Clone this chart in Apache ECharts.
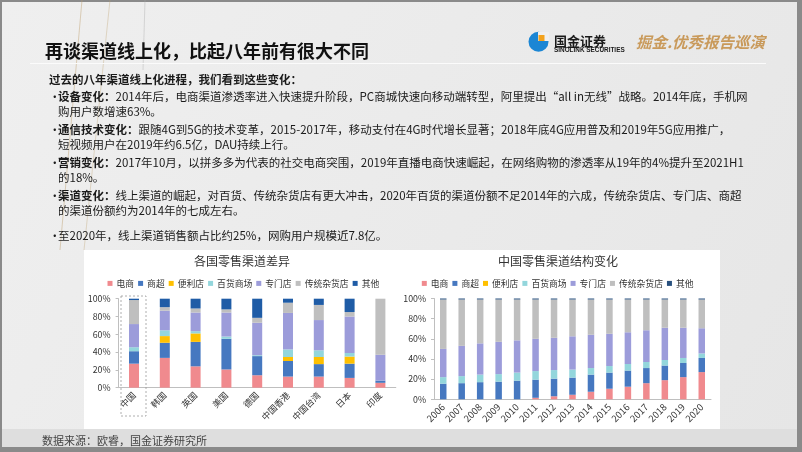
<!DOCTYPE html>
<html><head><meta charset="utf-8">
<script src="https://cdn.jsdelivr.net/npm/echarts@6/dist/echarts.min.js"></script>
<style>html,body{margin:0;padding:0;background:#ececec;}#c{width:802px;height:452px;}</style>
</head><body><div id="c"></div>
<script>
const seriesNames = ['电商','商超','便利店','百货商场','专门店','传统杂货店','其他'];
const countries = ['中国','韩国','英国','美国','德国','中国香港','中国台湾','日本','印度'];
const years = ['2006','2007','2008','2009','2010','2011','2012','2013','2014','2015','2016','2017','2018','2019','2020'];
const yTicks = [0,20,40,60,80,100];

// 各国零售渠道差异 (%)
const cEcom   = [27, 33.5, 24, 20.5, 14, 12.5, 12.5, 11, 5.5];
const cSuper  = [14, 17, 27.5, 34.5, 21.5, 17.5, 14, 16, 2.5];
const cConv   = [0, 7.5, 9.5, 0, 0, 4.5, 8, 8, 0];
const cDept   = [4.5, 6.5, 2.5, 2.5, 1, 8.5, 7.5, 4, 0];
const cSpec   = [26, 22, 21, 27, 36.5, 41, 34, 41, 29];
const cTrad   = [27, 4, 4.5, 3.5, 5.5, 11.5, 17, 5, 63];
const cOther  = [1.5, 9.5, 11, 12, 21.5, 4.5, 7, 15, 0];

// 中国零售渠道结构变化 (%)
const yEcom  = [0, 0, 0, 0, 0, 1.5, 3, 4.5, 7.5, 10.5, 12.5, 16, 19, 22, 27];
const ySuper = [15.5, 16, 17, 17.5, 18.5, 18, 17.5, 17, 17, 16, 16, 15, 14.5, 14, 14];
const yConv  = [0, 0, 0, 0, 0, 0, 0, 0, 0, 0, 0, 0, 0, 0, 0];
const yDept  = [6.5, 7, 7.5, 7.5, 8, 8.5, 8.5, 8, 6.5, 6.5, 6.5, 6, 5.5, 5, 4.5];
const ySpec  = [28, 30, 31, 32, 32, 32, 32, 33, 33, 32, 31.5, 31.5, 32, 30, 25];
const yTrad  = [49, 46, 43.5, 42, 40.5, 39, 38, 36.5, 35, 34, 32.5, 30.5, 28, 28, 28.5];
const yOther = [1, 1, 1, 1, 1, 1, 1, 1, 1, 1, 1, 1, 1, 1, 1];

const leftData = [cEcom, cSuper, cConv, cDept, cSpec, cTrad, cOther];
const rightData = [yEcom, ySuper, yConv, yDept, ySpec, yTrad, yOther];
const colorsL = ['#F08A8E','#4678C0','#FFC000','#93D6DC','#9C9CDA','#BFBFBF','#1F5CA6'];
const colorsR = ['#F08A8E','#4678C0','#FFC000','#93D6DC','#9C9CDA','#BFBFBF','#28507E'];

const FF = '"Noto Sans CJK SC","Noto Sans",sans-serif';
const chart = echarts.init(document.getElementById('c'));

const series = [];
seriesNames.forEach((n,i)=>{
  series.push({name:n,type:'bar',stack:'L',xAxisIndex:0,yAxisIndex:0,barWidth:10,data:leftData[i],itemStyle:{color:colorsL[i]}});
});
seriesNames.forEach((n,i)=>{
  series.push({name:n,type:'bar',stack:'R',xAxisIndex:1,yAxisIndex:1,barWidth:6.5,data:rightData[i],itemStyle:{color:colorsR[i]}});
});

const bodyFont = 11.5;
const rich = {b:{fontWeight:'bold',fontSize:bodyFont,fontFamily:FF,fill:'#1a1a1a'}};
const bodyLines = [
  {x:49, y:80, t:'{b|过去的八年渠道线上化进程，我们看到这些变化：}', bullet:false},
  {x:58, y:97, t:'{b|设备变化：}2014年后，电商渠道渗透率进入快速提升阶段，PC商城快速向移动端转型，阿里提出“all in无线”战略。2014年底，手机网', bullet:true},
  {x:58, y:112, t:'购用户数增速63%。', bullet:false},
  {x:58, y:130, t:'{b|通信技术变化：}跟随4G到5G的技术变革，2015-2017年，移动支付在4G时代增长显著；2018年底4G应用普及和2019年5G应用推广，', bullet:true},
  {x:58, y:145, t:'短视频用户在2019年约6.5亿，DAU持续上行。', bullet:false},
  {x:58, y:163, t:'{b|营销变化：}2017年10月，以拼多多为代表的社交电商突围，2019年直播电商快速崛起，在网络购物的渗透率从19年的4%提升至2021H1', bullet:true},
  {x:58, y:178, t:'的18%。', bullet:false},
  {x:58, y:196, t:'{b|渠道变化：}线上渠道的崛起，对百货、传统杂货店有更大冲击，2020年百货的渠道份额不足2014年的六成，传统杂货店、专门店、商超', bullet:true},
  {x:58, y:211, t:'的渠道份额约为2014年的七成左右。', bullet:false},
  {x:58, y:236, t:'至2020年，线上渠道销售额占比约25%，网购用户规模近7.8亿。', bullet:true}
];

const graphics = [
  {type:'rect', z:-20, shape:{x:0,y:0,width:802,height:452}, style:{fill:'#8a8a8a'}},
  {type:'rect', z:-19, shape:{x:2,y:2,width:795,height:445}, style:{fill:{type:'linear',x:0,y:0,x2:1,y2:1,colorStops:[{offset:0,color:'#efefef'},{offset:1,color:'#e6e6e6'}]}}},
  {type:'line', z:-18, shape:{x1:82,y1:0,x2:60,y2:250}, style:{stroke:'rgba(190,160,110,0.45)',lineWidth:1}},
  {type:'line', z:-18, shape:{x1:110,y1:0,x2:84,y2:250}, style:{stroke:'rgba(190,160,110,0.35)',lineWidth:1}},
  {type:'line', z:-18, shape:{x1:145,y1:0,x2:143,y2:70}, style:{stroke:'rgba(170,170,170,0.4)',lineWidth:1}},
  {type:'line', z:-18, shape:{x1:30,y1:63.5,x2:766,y2:63.5}, style:{stroke:'#fbfbfb',lineWidth:1.2}},
  {type:'rect', z:-17, shape:{x:2,y:429,width:795,height:18}, style:{fill:'#dedede'}},
  {type:'rect', z:-16, shape:{x:84,y:250,width:636,height:179}, style:{fill:'#ffffff'}},
  {type:'text', z:50, x:45, y:51, style:{text:'再谈渠道线上化，比起八年前有很大不同', font:'bold 18px '+FF, fill:'#111', verticalAlign:'middle'}},
  // logo
  {type:'circle', z:50, shape:{cx:538.5,cy:41.7,r:10}, style:{fill:'#1B86D4'}},
  {type:'rect', z:51, shape:{x:538,y:32,width:11,height:9}, style:{fill:'#efefef'}},
  {type:'rect', z:52, shape:{x:538.5,y:35,width:6,height:6}, style:{fill:'#F3A21C'}},
  {type:'text', z:50, x:554, y:41.5, style:{text:'国金证券', font:'bold 13px '+FF, fill:'#1a1a1a', verticalAlign:'middle'}},
  {type:'text', z:50, x:554, y:50.5, style:{text:'SINOLINK SECURITIES', font:'bold 6.4px "Liberation Sans",sans-serif', fill:'#1a1a1a', verticalAlign:'middle'}},
  {type:'text', z:50, x:636, y:42, style:{text:'掘金.优秀报告巡演', font:'italic bold 15.5px '+FF, fill:'#C99A5B', verticalAlign:'middle'}},
  // dashed box around 中国
  {type:'rect', z:60, shape:{x:121,y:296,width:25,height:120}, style:{fill:null, stroke:'#9a9a9a', lineWidth:0.8, lineDash:[2,2]}},
  {type:'text', z:50, x:42, y:441, style:{text:'数据来源：欧睿，国金证券研究所', font:'11px '+FF, fill:'#444', verticalAlign:'middle'}}
];
bodyLines.forEach(l=>{
  if(l.bullet) graphics.push({type:'text', z:50, x:49, y:l.y, style:{text:'•', font:bodyFont+'px '+FF, fill:'#1a1a1a', verticalAlign:'middle'}});
  graphics.push({type:'text', z:50, x:l.x, y:l.y, style:{text:l.t, rich:rich, fontSize:bodyFont, fontFamily:FF, fill:'#1a1a1a', verticalAlign:'middle'}});
});

function legendItems(cols){ return seriesNames.map((n,i)=>({name:n, itemStyle:{color:cols[i]}})); }
const legendCommon = {top:279, itemWidth:5, itemHeight:5, itemGap:4, padding:0, icon:'rect', selectedMode:false,
  textStyle:{fontSize:8.8, fontFamily:FF, color:'#333', padding:[0,0,0,-1]}};
const yCommon = {type:'value', min:0, max:100, interval:20,
  axisLabel:{formatter:'{value}%', fontSize:8.8, fontFamily:FF, color:'#333', margin:8},
  axisLine:{show:true, lineStyle:{color:'#bfbfbf'}}, axisTick:{show:true, length:3, lineStyle:{color:'#bfbfbf'}},
  splitLine:{show:false}};

chart.setOption({
  animation:false,
  backgroundColor:'transparent',
  graphic:{elements:graphics},
  title:[
    {text:'各国零售渠道差异', left:242, top:255, textAlign:'center', padding:0, textStyle:{fontSize:12, fontWeight:'normal', fontFamily:FF, color:'#333'}},
    {text:'中国零售渠道结构变化', left:558, top:255, textAlign:'center', padding:0, textStyle:{fontSize:12, fontWeight:'normal', fontFamily:FF, color:'#333'}}
  ],
  legend:[
    Object.assign({left:107.5, data:legendItems(colorsL)}, legendCommon),
    Object.assign({left:421.8, data:legendItems(colorsR)}, legendCommon)
  ],
  grid:[
    {left:118.6, top:298.7, width:277.2, height:89},
    {left:434, top:298.5, width:277, height:100.8}
  ],
  xAxis:[
    {type:'category', gridIndex:0, data:countries,
      axisLabel:{rotate:45, fontSize:8.8, fontFamily:FF, color:'#333', margin:6, interval:0},
      axisLine:{lineStyle:{color:'#bfbfbf'}}, axisTick:{length:3, lineStyle:{color:'#bfbfbf'}}},
    {type:'category', gridIndex:1, data:years,
      axisLabel:{rotate:45, fontSize:9.5, fontFamily:FF, color:'#333', margin:6, interval:0},
      axisLine:{lineStyle:{color:'#bfbfbf'}}, axisTick:{length:3, lineStyle:{color:'#bfbfbf'}}}
  ],
  yAxis:[
    Object.assign({gridIndex:0}, yCommon),
    Object.assign({gridIndex:1}, yCommon)
  ],
  series:series
});
</script></body></html>
